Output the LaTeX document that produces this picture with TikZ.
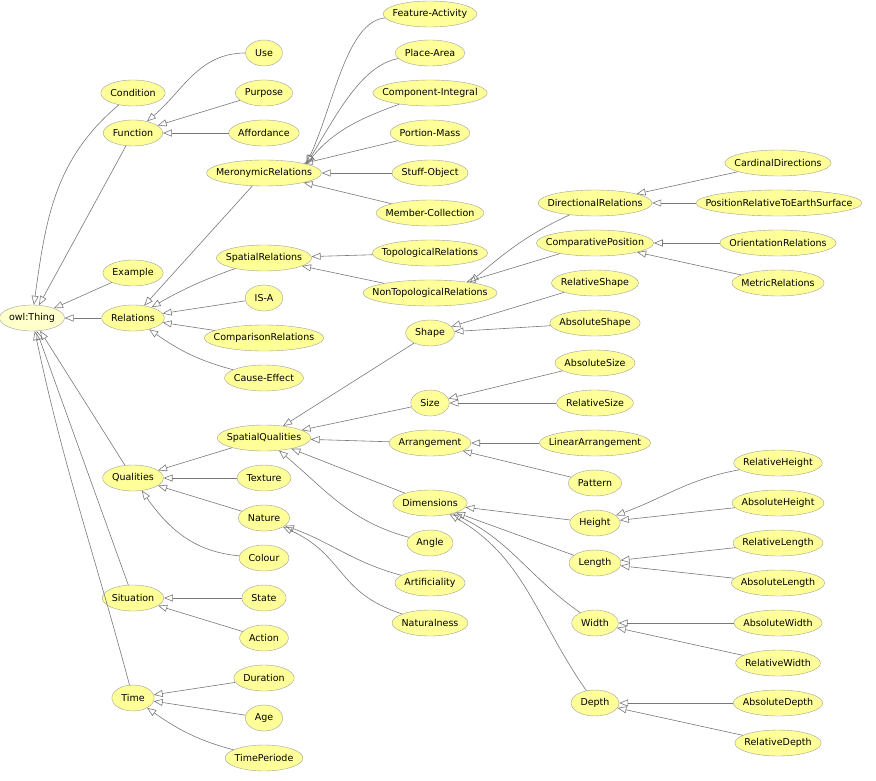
\documentclass[tikz,border=0pt]{standalone}
\usepackage{fontspec}
\setmainfont{DejaVu Sans}
\usepackage{tikz}
\usetikzlibrary{shapes.geometric, arrows.meta}
\definecolor{clsfill}{RGB}{255,255,153}
\definecolor{topfill}{RGB}{255,255,204}
\definecolor{clsline}{RGB}{160,160,150}
\definecolor{edgecolor}{RGB}{120,120,120}
\newcommand\clsfont{\fontsize{9.5}{11}\selectfont}
\newlength\clsw
% class node: name, position, label
\newcommand\cls[4][]{%
  \pgfinterruptpicture\global\setbox1\hbox{\clsfont #4}\endpgfinterruptpicture
  \setlength\clsw{\wd1}%
  \node[cls, minimum width=\clsw+19pt, #1] (#2) at (#3) {\makebox[0pt]{#4}};}

\begin{document}
\begin{tikzpicture}[
    x=1pt, y=-1pt,
    cls/.style={ellipse, draw=clsline, fill=clsfill, inner sep=0pt, minimum height=26pt, font=\clsfont},
    isa/.style={-{Triangle[open, length=9pt, width=7pt]}, draw=edgecolor, line width=0.6pt}
]
\useasboundingbox (0,0) rectangle (876,781);

% column 1
\cls[fill=topfill]{thing}{32,318}{owl:Thing}
% column 2
\cls{condition}{133,93}{Condition}
\cls{function}{133,133}{Function}
\cls{example}{133,273}{Example}
\cls{relations}{133,318}{Relations}
\cls{qualities}{133,478}{Qualities}
\cls{situation}{133,598}{Situation}
\cls{time}{133,698}{Time}
% column 3
\cls{use}{264,53}{Use}
\cls{purpose}{264,93}{Purpose}
\cls{affordance}{264,133}{Affordance}
\cls{meronymic}{264,173}{MeronymicRelations}
\cls{spatialrel}{264,258}{SpatialRelations}
\cls{isa}{264,298}{IS-A}
\cls{comparison}{264,338}{ComparisonRelations}
\cls{cause}{264,378}{Cause-Effect}
\cls{spatialq}{264,438}{SpatialQualities}
\cls{texture}{264,478}{Texture}
\cls{nature}{264,518}{Nature}
\cls{colour}{264,558}{Colour}
\cls{state}{264,598}{State}
\cls{action}{264,638}{Action}
\cls{duration}{264,678}{Duration}
\cls{age}{264,718}{Age}
\cls{timeperiode}{264,758}{TimePeriode}
% column 4
\cls{feature}{430,14}{Feature-Activity}
\cls{place}{430,53}{Place-Area}
\cls{component}{430,93}{Component-Integral}
\cls{portion}{430,133}{Portion-Mass}
\cls{stuff}{430,173}{Stuff-Object}
\cls{member}{430,213}{Member-Collection}
\cls{topological}{430,253}{TopologicalRelations}
\cls{nontopological}{430,293}{NonTopologicalRelations}
\cls{shape}{430,333}{Shape}
\cls{size}{430,403}{Size}
\cls{arrangement}{430,443}{Arrangement}
\cls{dimensions}{430,503}{Dimensions}
\cls{angle}{430,543}{Angle}
\cls{artificiality}{430,583}{Artificiality}
\cls{naturalness}{430,623}{Naturalness}
% column 5
\cls{directional}{595,203}{DirectionalRelations}
\cls{comparative}{595,243}{ComparativePosition}
\cls{relshape}{595,283}{RelativeShape}
\cls{absshape}{595,323}{AbsoluteShape}
\cls{abssize}{595,363}{AbsoluteSize}
\cls{relsize}{595,403}{RelativeSize}
\cls{linear}{595,443}{LinearArrangement}
\cls{pattern}{595,483}{Pattern}
\cls{height}{595,523}{Height}
\cls{length}{595,563}{Length}
\cls{width}{595,623}{Width}
\cls{depth}{595,703}{Depth}
% column 6
\cls{cardinal}{778,163}{CardinalDirections}
\cls{earth}{779,203}{PositionRelativeToEarthSurface}
\cls{orientation}{778,243}{OrientationRelations}
\cls{metric}{778,283}{MetricRelations}
\cls{relheight}{778,463}{RelativeHeight}
\cls{absheight}{778,503}{AbsoluteHeight}
\cls{rellength}{778,543}{RelativeLength}
\cls{abslength}{778,583}{AbsoluteLength}
\cls{abswidth}{778,623}{AbsoluteWidth}
\cls{relwidth}{778,663}{RelativeWidth}
\cls{absdepth}{778,703}{AbsoluteDepth}
\cls{reldepth}{778,743}{RelativeDepth}

% subclass edges
\draw[isa] (condition) to[out=-140, in=82] (thing);
\draw[isa] (function) -- (thing);
\draw[isa] (example) -- (thing);
\draw[isa] (relations) -- (thing);
\draw[isa] (qualities) -- (thing);
\draw[isa] (situation) -- (thing);
\draw[isa] (time) to[out=105, in=-78] (thing);

\draw[isa] (use) to[out=180, in=40] (function);
\draw[isa] (purpose) -- (function);
\draw[isa] (affordance) -- (function);

\draw[isa] (meronymic) -- (relations);
\draw[isa] (spatialrel) to[out=200, in=30] (relations);
\draw[isa] (isa) -- (relations);
\draw[isa] (comparison) -- (relations);
\draw[isa] (cause) to[out=165, in=-35] (relations);

\draw[isa] (feature) to[out=185, in=65, out looseness=0.6] (meronymic.12);
\draw[isa] (place) to[out=190, in=58, out looseness=0.7] (meronymic.12);
\draw[isa] (component) to[out=200, in=50] (meronymic.12);
\draw[isa] (portion) -- (meronymic);
\draw[isa] (stuff) -- (meronymic);
\draw[isa] (member) -- (meronymic);

\draw[isa] (topological) -- (spatialrel);
\draw[isa] (nontopological) -- (spatialrel);
\draw[isa] (directional) to[out=205, in=40] (nontopological.15);
\draw[isa] (comparative) -- (nontopological);
\draw[isa] (cardinal) -- (directional);
\draw[isa] (earth) -- (directional);
\draw[isa] (orientation) -- (comparative);
\draw[isa] (metric) -- (comparative);

\draw[isa] (spatialq) -- (qualities);
\draw[isa] (texture) -- (qualities);
\draw[isa] (nature) -- (qualities);
\draw[isa] (colour) to[out=175, in=-55] (qualities);

\draw[isa] (shape) -- (spatialq);
\draw[isa] (size) -- (spatialq);
\draw[isa] (arrangement) -- (spatialq);
\draw[isa] (dimensions) -- (spatialq);
\draw[isa] (angle) to[out=165, in=-40] (spatialq);
\draw[isa] (relshape) -- (shape);
\draw[isa] (absshape) -- (shape);
\draw[isa] (abssize) -- (size);
\draw[isa] (relsize) -- (size);
\draw[isa] (linear) -- (arrangement);
\draw[isa] (pattern) -- (arrangement);
\draw[isa] (artificiality) to[out=165, in=-20] (nature);
\draw[isa] (naturalness) to[out=162, in=-25, looseness=1.2] (nature);

\draw[isa] (height) -- (dimensions);
\draw[isa] (length) to[out=160, in=-20] (dimensions);
\draw[isa] (width) to[out=145, in=-25] (dimensions);
\draw[isa] (depth) to[out=125, in=-30] (dimensions);
\draw[isa] (relheight) to[out=190, in=20] (height);
\draw[isa] (absheight) -- (height);
\draw[isa] (rellength) -- (length);
\draw[isa] (abslength) -- (length);
\draw[isa] (abswidth) -- (width);
\draw[isa] (relwidth) -- (width);
\draw[isa] (absdepth) -- (depth);
\draw[isa] (reldepth) -- (depth);

\draw[isa] (state) -- (situation);
\draw[isa] (action) -- (situation);
\draw[isa] (duration) -- (time);
\draw[isa] (age) -- (time);
\draw[isa] (timeperiode) to[out=165, in=-35] (time);
\end{tikzpicture}
\end{document}
